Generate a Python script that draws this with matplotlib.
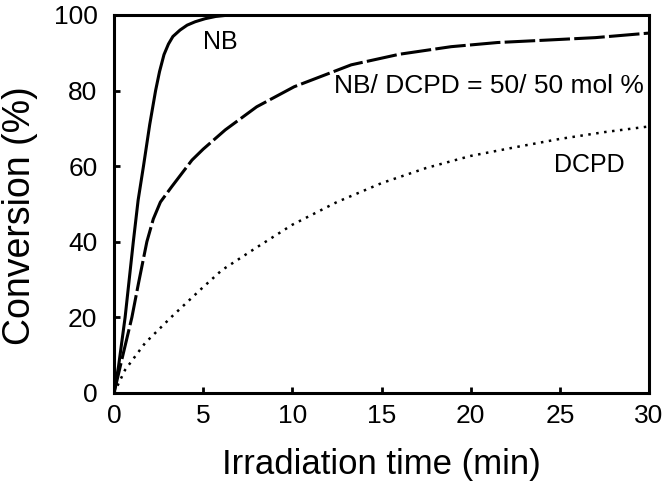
import matplotlib
matplotlib.use('Agg')
import matplotlib.pyplot as plt

plt.rcParams['font.family'] = ['Liberation Sans', 'DejaVu Sans']

# NB homopolymerisation
nb_time = [0, 0.25, 0.62, 1.08, 1.35, 1.65, 2.0, 2.33, 2.55, 2.8, 3.05, 3.3, 3.7, 4.1, 4.55, 5.1, 5.7, 6.5]
nb_conv = [0, 7, 20, 40, 51, 60, 71, 80, 85, 89.5, 92.3, 94.3, 96, 97.3, 98.2, 99, 99.6, 100]

# NB/DCPD 50/50 mol %
mix_time = [0, 0.43, 1.0, 1.37, 1.84, 2.2, 2.6, 3.24, 4.37, 5.0, 6.24, 8.0, 10.1, 13.3, 16.0, 18.9, 21.5, 24.5, 27.0, 30.0]
mix_conv = [0, 8.7, 20, 29, 40, 46, 50.5, 54.6, 61.6, 64.5, 69.6, 75.7, 81, 86.8, 89.6, 91.6, 92.7, 93.4, 94.0, 95.2]

# DCPD homopolymerisation
dcpd_time = [0, 0.62, 1.74, 3.24, 4.93, 6.05, 8.0, 10.0, 12.5, 15.0, 17.5, 20.0, 22.5, 25.0, 27.5, 30.0]
dcpd_conv = [0, 6.1, 13.2, 20.2, 27.7, 32.5, 38.5, 44.5, 50.5, 55.5, 59.5, 62.7, 65.0, 67.2, 69.0, 70.5]

fig = plt.figure(figsize=(6.67, 4.98), dpi=100)
ax = fig.add_axes([0.171, 0.211, 0.802, 0.759])

ax.plot(nb_time, nb_conv, color='black', lw=2.2, solid_capstyle='round')
ax.plot(mix_time, mix_conv, color='black', lw=2.2, dashes=(10, 1.4))
ax.plot(dcpd_time, dcpd_conv, color='black', lw=1.8, dashes=(1.0, 2.2))

ax.text(5.0, 91, 'NB', fontsize=18, ha='left', va='baseline')
ax.text(29.72, 79.4, 'NB/ DCPD = 50/ 50 mol %', fontsize=19, ha='right', va='baseline')
ax.text(24.66, 58.5, 'DCPD', fontsize=18, ha='left', va='baseline')

ax.set_xlim(0, 30)
ax.set_ylim(0, 100)
ax.set_xticks([0, 5, 10, 15, 20, 25, 30])
ax.set_yticks([0, 20, 40, 60, 80, 100])
ax.tick_params(direction='in', length=4, width=2, labelsize=19)
ax.tick_params(axis='x', pad=8)
ax.tick_params(axis='y', pad=12)
for s in ax.spines.values():
    s.set_linewidth(2.2)

ax.set_xlabel('Irradiation time (min)', fontsize=25)
ax.set_ylabel('Conversion (%)', fontsize=27)
ax.xaxis.set_label_coords(0.5, -0.145)
ax.yaxis.set_label_coords(-0.142, 0.47)

plt.savefig('out.png', dpi=100)
